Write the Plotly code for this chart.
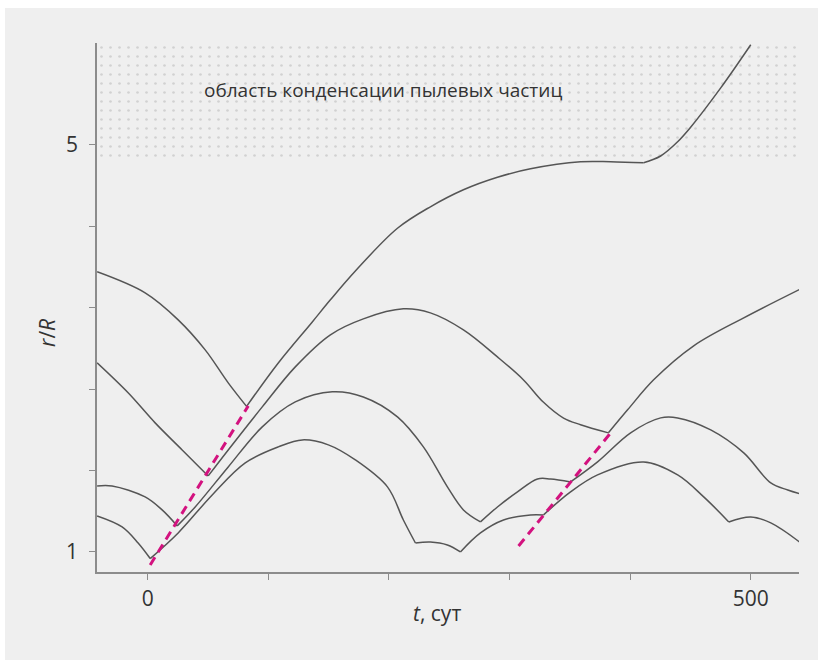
import plotly.graph_objects as go

# --- r/R versus time (days) for four trajectories ---
t_a = [-41.9, -2.1, 25.3, 47.7, 66.8, 82.0, 108.3, 136.5, 151.5, 172.2, 207.1,
       234.4, 261.8, 290.0, 317.4, 358.9, 383.8, 411.2, 425.3, 439.4, 450.0, 475.1, 500.0]
r_a = [3.752, 3.545, 3.280, 2.985, 2.661, 2.430, 2.857, 3.260, 3.477, 3.760, 4.180,
       4.391, 4.558, 4.681, 4.764, 4.833, 4.833, 4.823, 4.890, 5.030, 5.170, 5.559, 5.983]
cusps_a = [82.0, 411.2]

t_b = [-41.9, -16.2, 6.2, 28.6, 47.7, 50.2, 66.8, 95.0, 122.4, 151.5, 178.8, 212.0, 234.4,
       261.8, 290.0, 311.6, 328.2, 344.8, 358.9, 382.0, 397.9, 419.5, 452.7, 494.2, 541.5]
r_b = [2.857, 2.563, 2.268, 2.002, 1.776, 1.747, 2.002, 2.425, 2.818, 3.133, 3.290, 3.388, 3.349,
       3.182, 2.916, 2.690, 2.470, 2.315, 2.250, 2.170, 2.396, 2.691, 3.025, 3.300, 3.585]
cusps_b = [50.2, 382.0]

t_c = [-41.9, -29.5, -2.1, 12.0, 24.5, 39.4, 66.8, 95.0, 122.4, 153.1, 178.8, 207.1, 228.6,
       248.5, 261.8, 275.9, 290.0, 306.6, 323.2, 334.0, 350.6, 373.0, 400.4, 425.3, 439.4,
       466.8, 494.2, 516.6, 530.7, 541.5]
r_c = [1.649, 1.649, 1.541, 1.413, 1.256, 1.442, 1.835, 2.229, 2.474, 2.573, 2.523, 2.327, 2.032,
       1.639, 1.413, 1.295, 1.442, 1.590, 1.717, 1.717, 1.688, 1.885, 2.170, 2.317, 2.317,
       2.199, 1.973, 1.678, 1.609, 1.570]
cusps_c = [24.5, 275.9, 350.6]

t_d = [-41.9, -21.2, -7.9, 2.1, 25.3, 53.5, 80.9, 108.3, 128.2, 149.8, 172.2, 198.8, 212.0,
       222.0, 234.4, 248.5, 259.3, 275.9, 295.0, 317.4, 328.2, 350.6, 373.0, 411.2, 439.4,
       461.0, 481.8, 500.0, 516.6, 541.5]
r_d = [1.354, 1.246, 1.088, 0.935, 1.187, 1.560, 1.875, 2.032, 2.101, 2.052, 1.904, 1.639, 1.314,
       1.088, 1.098, 1.069, 1.000, 1.187, 1.314, 1.364, 1.364, 1.590, 1.757, 1.884, 1.757,
       1.541, 1.295, 1.344, 1.285, 1.088]
cusps_d = [2.1, 222.0, 259.3, 328.2, 481.8]

# straight dashed guides (t, r endpoints)
guide1_t = [2.1, 83.4]
guide1_r = [0.872, 2.435]
guide2_t = [307.5, 384.6]
guide2_r = [1.059, 2.180]

# dust condensation zone limits
dust_t = [-42, 540]
dust_r = [4.86, 6.0]

x_ticks = [0, 100, 200, 300, 400, 500]
x_ticktext = ["0", "", "", "", "", "500"]
y_ticks = [1, 1.8, 2.6, 3.4, 4.2, 5]
y_ticktext = ["1", "", "", "", "", "5"]

LINE = "#555555"
GUIDE = "#d3127f"
AXIS = "#8c8c8c"
PANEL = "#efefef"


def split_at_cusps(ts, rs, cusps):
    """Break a curve into smooth pieces at its cusp points (gaps = None)."""
    xs, ys = [], []
    for i, (t, r) in enumerate(zip(ts, rs)):
        xs.append(t)
        ys.append(r)
        if t in cusps and 0 < i < len(ts) - 1:
            xs += [None, t]
            ys += [None, r]
    return xs, ys


fig = go.Figure()

# dotted band of the condensation zone
fig.add_trace(go.Scatter(
    x=[dust_t[0], dust_t[1], dust_t[1], dust_t[0], dust_t[0]],
    y=[dust_r[0], dust_r[0], dust_r[1], dust_r[1], dust_r[0]],
    mode="lines", line=dict(width=0), fill="toself",
    fillcolor="rgba(0,0,0,0)",
    fillpattern=dict(shape=".", fgcolor="#b4b4b4", bgcolor="rgba(0,0,0,0)",
                     size=9, solidity=0.07),
    hoverinfo="skip", showlegend=False))

for ts, rs, cs in [(t_a, r_a, cusps_a), (t_b, r_b, cusps_b),
                   (t_c, r_c, cusps_c), (t_d, r_d, cusps_d)]:
    xs, ys = split_at_cusps(ts, rs, cs)
    fig.add_trace(go.Scatter(
        x=xs, y=ys, mode="lines",
        line=dict(color=LINE, width=1.5, shape="spline", smoothing=1.0),
        connectgaps=False, showlegend=False, hoverinfo="skip"))

for gt, gr in [(guide1_t, guide1_r), (guide2_t, guide2_r)]:
    fig.add_trace(go.Scatter(
        x=gt, y=gr, mode="lines",
        line=dict(color=GUIDE, width=3, dash="9px,6px"),
        showlegend=False, hoverinfo="skip"))

font = "Open Sans, Noto Sans, sans-serif"

fig.update_layout(
    width=823, height=667,
    margin=dict(l=97, r=24, t=43, b=95),
    paper_bgcolor="white",
    plot_bgcolor=PANEL,
    font=dict(family=font, color="#333333", size=21),
    xaxis=dict(range=[-42, 540], showgrid=False, zeroline=False,
               showline=True, linecolor=AXIS, linewidth=1.5,
               ticks="outside", ticklen=6, tickwidth=1.2, tickcolor=AXIS,
               tickvals=x_ticks, ticktext=x_ticktext, ticklabelstandoff=1),
    yaxis=dict(range=[0.803, 6.0], showgrid=False, zeroline=False,
               showline=True, linecolor=AXIS, linewidth=1.5,
               ticks="outside", ticklen=6, tickwidth=1.2, tickcolor=AXIS,
               tickvals=y_ticks, ticktext=y_ticktext, ticklabelstandoff=7),
    shapes=[dict(type="rect", xref="paper", yref="paper", layer="below",
                 x0=-92 / 702, x1=1 + 19 / 702, y0=-88 / 529, y1=1 + 35 / 529,
                 fillcolor=PANEL, line=dict(width=0))],
    annotations=[
        dict(text="область конденсации пылевых частиц", xref="paper", yref="paper",
             x=0.408, y=0.911, xanchor="center", yanchor="middle",
             showarrow=False, font=dict(size=19, color="#333333")),
        dict(text="<i>t</i>, сут", xref="paper", yref="paper",
             x=0.484, y=-0.0775, xanchor="center", yanchor="middle",
             showarrow=False, font=dict(size=21)),
        dict(text="<i>r</i>/<i>R</i>", xref="paper", yref="paper",
             x=-0.0712, y=0.452, xanchor="center", yanchor="middle",
             showarrow=False, textangle=-90, font=dict(size=21)),
    ],
)

fig.write_html("out.html")
